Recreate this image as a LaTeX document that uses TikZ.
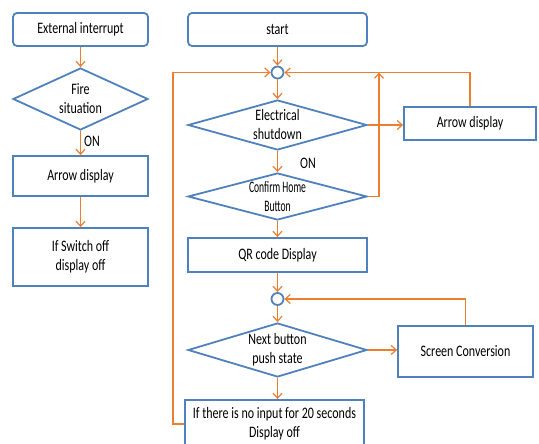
\documentclass[tikz,border=0pt]{standalone}
\usepackage{fontspec}
\setmainfont{Carlito}[FakeStretch=0.75]
\usetikzlibrary{shapes.geometric,arrows.meta}
\definecolor{bblue}{RGB}{79,129,189}
\definecolor{borange}{RGB}{237,125,49}
\begin{document}
\begin{tikzpicture}[x=1pt,y=-1pt,
  box/.style={draw=bblue,line width=1.8pt,fill=white,inner sep=0pt,align=center,font=\fontsize{16}{19}\selectfont},
  rbox/.style={box,rounded corners=4pt},
  dia/.style={diamond,draw=bblue,line width=1.8pt,inner sep=0pt},
  txt/.style={inner sep=0pt,align=center,font=\fontsize{16}{19}\selectfont},
  circ/.style={circle,draw=bblue,line width=1.8pt,minimum size=12pt,inner sep=0pt},
  arr/.style={draw=borange,line width=1.2pt,-{Straight Barb[length=5pt,width=9pt]}}]
\useasboundingbox (0,0) rectangle (539,444);
% left column
\node[rbox,minimum width=135,minimum height=33] (ei) at (80.5,29.5) {External interrupt};
\node[dia,minimum width=135,minimum height=62] (fire) at (80.5,99) {};
\node[txt] (firet) at (80.5,99) {Fire\\situation};
\node[txt,anchor=west] (on1) at (84,141) {ON};
\node[box,minimum width=135,minimum height=40] (adl) at (80.5,176) {Arrow display};
\node[box,minimum width=135,minimum height=58] (sw) at (80.5,257) {If Switch off\\display off};
% right column
\node[rbox,minimum width=179,minimum height=33] (st) at (277.5,29.5) {start};
\node[circ] (c1) at (277.5,72.5) {};
\node[dia,minimum width=179,minimum height=50] (es) at (277.5,125) {};
\node[txt] (est) at (277.5,125) {Electrical\\shutdown};
\node[box,minimum width=132,minimum height=33] (ad) at (470,123.5) {Arrow display};
\node[txt,anchor=west] (on2) at (300,163) {ON};
\node[dia,minimum width=179,minimum height=47] (ch) at (277.5,196.5) {};
\node[txt] (cht) at (277.5,196.5) {\scalebox{0.8}[1]{Confirm Home}\\\scalebox{0.8}[1]{Button}};
\node[box,minimum width=179,minimum height=34] (qr) at (277.5,255) {QR code Display};
\node[circ] (c2) at (277.5,299) {};
\node[dia,minimum width=179,minimum height=54] (nb) at (277.5,350) {};
\node[txt] (nbt) at (277.5,350) {Next button\\push state};
\node[box,minimum width=135,minimum height=51] (sc) at (465.5,351.5) {Screen Conversion};
\node[box,minimum width=179,minimum height=48] (lb) at (274.5,424) {If there is no input for 20 seconds\\Display off};
\coordinate (lx) at (173,72.5);
\coordinate (cx) at (379,72.5);
% connectors
\draw[arr] (ei) -- (fire.north);
\draw[arr] (fire.south) -- (adl);
\draw[arr] (adl) -- (sw);
\draw[arr] (st) -- (c1);
\draw[arr] (c1) -- (es.north);
\draw[arr] (es.east) -- (es.east -| ad.west);
\draw[arr] (ad.north) |- (c1.east);
\draw[arr] (es.south) -- (ch.north);
\draw[arr] (ch.east) -| (cx);
\draw[arr] (ch.south) -- (qr);
\draw[arr] (qr) -- (c2);
\draw[arr] (c2) -- (nb.north);
\draw[arr] (nb.east) -- (nb.east -| sc.west);
\draw[arr] (sc.north) |- (c2.east);
\draw[arr] (nb.south) -- (nb.south |- lb.north);
\draw[arr] (lb.west) -| (lx) -- (c1.west);
\end{tikzpicture}
\end{document}
